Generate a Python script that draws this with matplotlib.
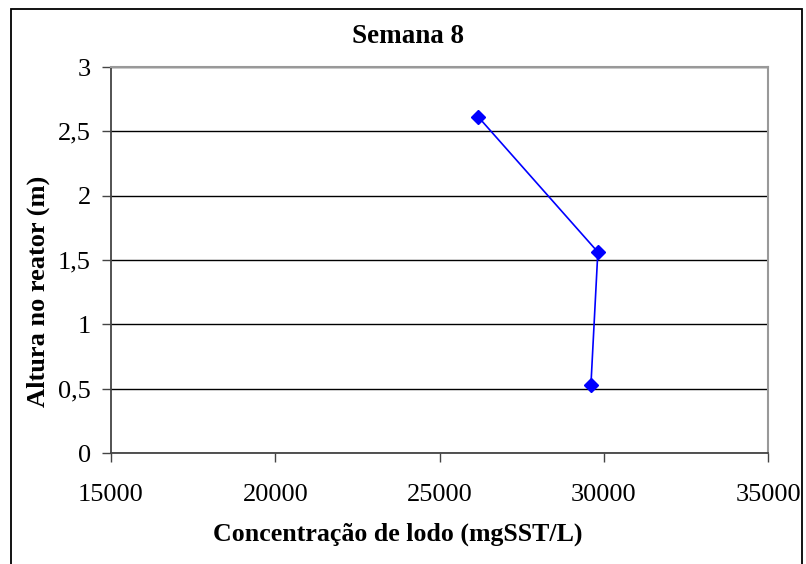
import matplotlib.pyplot as plt
from matplotlib.patches import Rectangle
from matplotlib.ticker import FuncFormatter

# Perfil de lodo - semana 8
concentracao = [26170, 29820, 29610]   # mgSST/L
altura = [2.615, 1.562, 0.531]         # m

x_ticks = [15000, 20000, 25000, 30000, 35000]
y_ticks = [0, 0.5, 1, 1.5, 2, 2.5, 3]

plt.rcParams['font.family'] = ['Liberation Serif', 'DejaVu Serif']

W, H = 806, 564
fig = plt.figure(figsize=(W / 100, H / 100), dpi=100)
ax = fig.add_axes([111 / W, 1 - 453 / H, (768 - 111) / W, (453 - 67) / H])

# borda externa do grafico
fig.patches.append(Rectangle((11 / W, -0.05), (802 - 11) / W, 1 - 9 / H + 0.05,
                             transform=fig.transFigure, fill=False,
                             edgecolor='black', linewidth=1.3))

ax.plot(concentracao, altura, color='#0000ff', linewidth=1.2,
        marker='D', markersize=7, markerfacecolor='#0000ff', markeredgecolor='#0000ff')

ax.set_xlim(15000, 35000)
ax.set_ylim(0, 3)
ax.set_xticks(x_ticks)
ax.set_yticks(y_ticks)
ax.yaxis.set_major_formatter(FuncFormatter(lambda v, p: f'{v:g}'.replace('.', ',')))
ax.xaxis.set_major_formatter(FuncFormatter(lambda v, p: f'{int(v)}'))

ax.grid(axis='y', color='black', linewidth=1)
ax.set_axisbelow(True)

for s in ['top', 'right']:
    ax.spines[s].set_color('#999999')
    ax.spines[s].set_linewidth(1.5)
for s in ['left', 'bottom']:
    ax.spines[s].set_color('#444444')
    ax.spines[s].set_linewidth(1.3)

ax.tick_params(axis='both', direction='out', length=6.5, width=1, color='#444444',
               labelsize=19)
ax.tick_params(axis='x', pad=16)
ax.tick_params(axis='y', pad=8)

# titulos centrados na area do grafico
fig.text(408 / W, 1 - 43 / H, 'Semana 8', fontsize=19.5, fontweight='bold',
         ha='center', va='baseline')
fig.text(398 / W, 1 - 541 / H, 'Concentração de lodo (mgSST/L)', fontsize=18.6,
         fontweight='bold', ha='center', va='baseline')
fig.text(45 / W, 1 - 291 / H, 'Altura no reator (m)', fontsize=19, fontweight='bold',
         rotation=90, rotation_mode='anchor', ha='center', va='baseline')

fig.savefig('out.png', dpi=100)
